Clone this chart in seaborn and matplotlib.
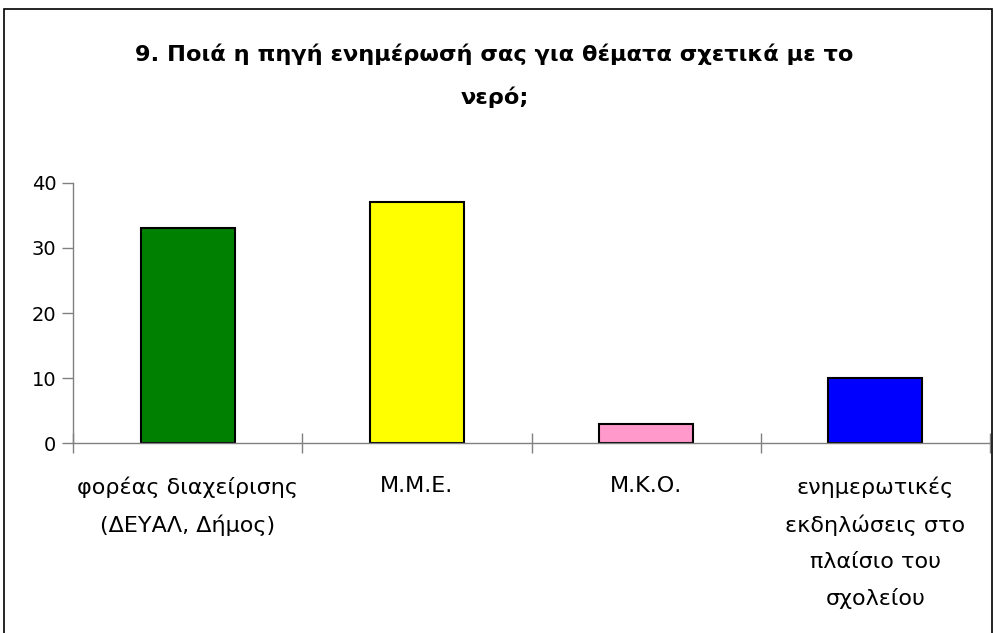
import matplotlib
matplotlib.use("Agg")
import matplotlib.pyplot as plt
import seaborn as sns
import pandas as pd
from matplotlib.patches import Rectangle

# Dados
categorias = ["φορέας διαχείρισης\n(ΔΕΥΑΛ, Δήμος)", "Μ.Μ.Ε.", "Μ.Κ.Ο.",
              "ενημερωτικές\nεκδηλώσεις στο\nπλαίσιο του\nσχολείου"]
valores = [33, 37, 3, 10]
cores = ["#008000", "#FFFF00", "#FF99CC", "#0000FF"]
titulo = "9. Ποιά η πηγή ενημέρωσή σας για θέματα σχετικά με το\nνερό;"

df = pd.DataFrame({"fonte": categorias, "valor": valores})

sns.set_style("white")
plt.rcParams['font.family'] = ['DejaVu Sans']
plt.rcParams['text.color'] = 'black'
plt.rcParams['xtick.color'] = '#808080'
plt.rcParams['ytick.color'] = '#808080'
plt.rcParams['xtick.labelcolor'] = 'black'
plt.rcParams['ytick.labelcolor'] = 'black'

fig = plt.figure(figsize=(9.95, 6.33), dpi=100)
ax = fig.add_axes([0.0734, 0.300, 0.9216, 0.411])

sns.barplot(data=df, x="fonte", y="valor", hue="fonte", palette=cores, saturation=1,
            width=0.41, edgecolor="black", linewidth=1.5, legend=False, ax=ax)

ax.set_xlim(-0.5, len(categorias) - 0.5)
ax.set_ylim(0, 40)
ax.set_yticks([0, 10, 20, 30, 40])
ax.set_xlabel("")
ax.set_ylabel("")

# marcas nas fronteiras das categorias
ax.set_xticks([i - 0.5 for i in range(len(categorias) + 1)], minor=True)
ax.tick_params(axis="x", which="minor", bottom=True, direction="inout", length=15, width=1)
ax.tick_params(axis="x", which="major", bottom=True, length=0, pad=24, labelsize=16)
ax.tick_params(axis="y", left=True, direction="out", length=8, width=1, labelsize=14, pad=4)
for lab in ax.get_xticklabels():
    lab.set_linespacing(1.97)
    lab.set_ha("center")

for s in ["top", "right"]:
    ax.spines[s].set_visible(False)
for s in ["left", "bottom"]:
    ax.spines[s].set_color("#808080")
    ax.spines[s].set_linewidth(1)

fig.text(0.497, 0.880, titulo, ha="center", va="center", fontsize=16.2,
         fontweight="bold", linespacing=2.25, color="black")

# moldura
fig.patches.append(Rectangle((0.004, -0.01), 0.993, 0.995, transform=fig.transFigure,
                             fill=False, edgecolor="black", linewidth=1.2))

fig.savefig("out.png", dpi=100)
